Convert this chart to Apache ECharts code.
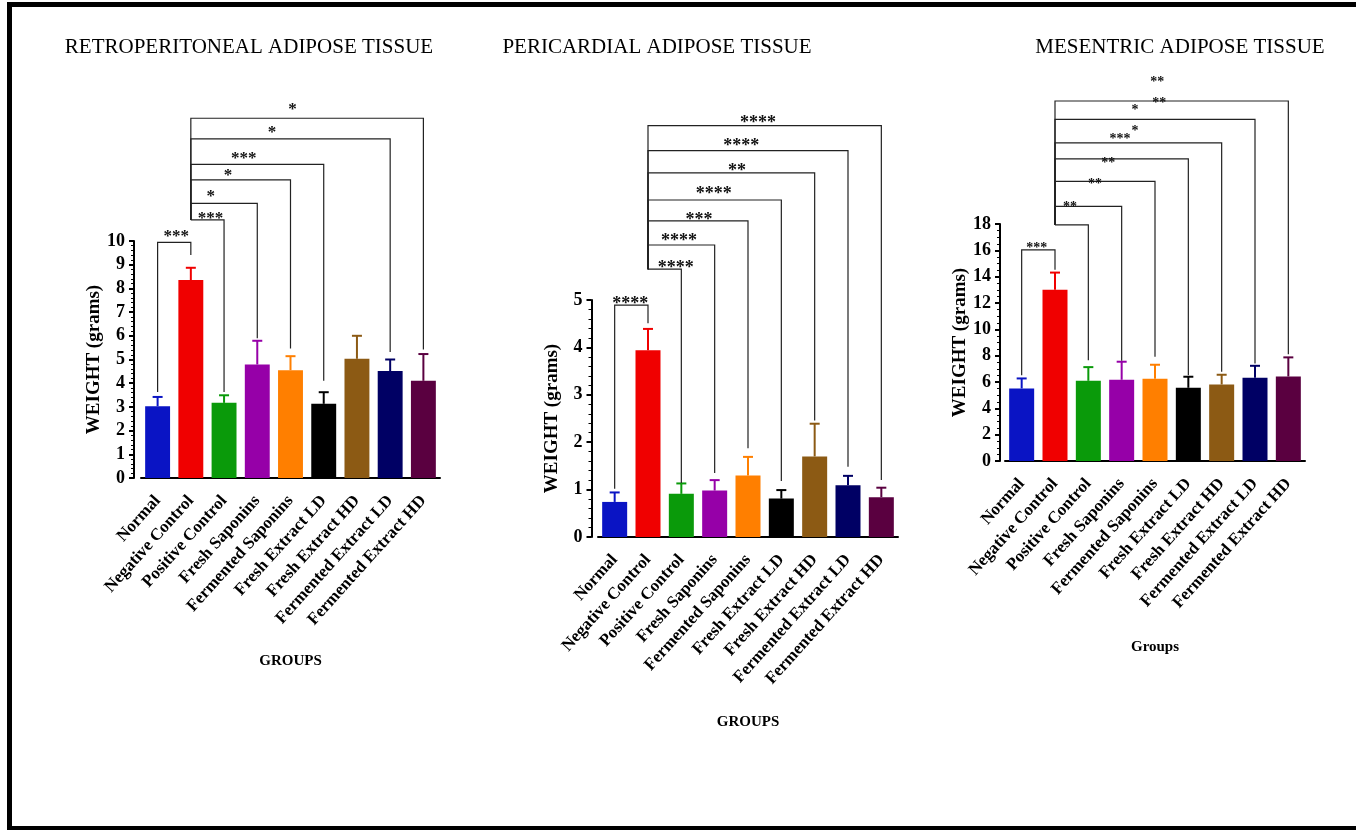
<!DOCTYPE html>
<html>
<head>
<meta charset="utf-8">
<script src="https://cdn.jsdelivr.net/npm/echarts@6/dist/echarts.min.js"></script>
<style>html,body{margin:0;padding:0;background:#fff}#c{width:1356px;height:830px}</style>
</head>
<body>
<div id="c"></div>
<script>
// ---------- DATA ----------
const categories = ['Normal','Negative Control','Positive Control','Fresh Saponins','Fermented Saponins','Fresh Extract LD','Fresh Extract HD','Fermented Extract LD','Fermented Extract HD'];

const retroMeans = [3.03, 8.35, 3.17, 4.79, 4.55, 3.13, 5.03, 4.51, 4.10];
const retroSD    = [0.39, 0.52, 0.32, 1.00, 0.59, 0.49, 0.97, 0.49, 1.13];
const retroCompare = [0, 2, 3, 4, 5, 7, 8];
const retroLevel   = [9.94, 10.89, 11.59, 12.58, 13.23, 14.31, 15.18];
const retroLegEnd  = [3.63, 3.63, 5.9, 5.46, 4.1, 5.32, 5.42];
const retroNegLegEnd = 9.41;
const retroStars  = ['***','***','*','*','***','*','*'];
const retroStarX  = [0.56, 1.59, 1.6, 2.12, 2.59, 3.44, 4.06];
const retroStarY  = [10.32, 11.08, 12.01, 12.9, 13.63, 14.72, 15.68];

const periMeans = [0.74, 3.94, 0.91, 0.98, 1.30, 0.81, 1.70, 1.09, 0.84];
const periSD    = [0.20, 0.45, 0.22, 0.22, 0.39, 0.18, 0.69, 0.20, 0.20];
const periCompare = [0, 2, 3, 4, 5, 6, 7, 8];
const periLevel   = [4.89, 5.65, 6.16, 6.67, 7.11, 7.68, 8.15, 8.68];
const periLegEnd  = [1.02, 1.14, 1.35, 1.87, 1.18, 2.46, 1.48, 1.2];
const periNegLegEnd = 4.51;
const periStars  = ['****','****','****','***','****','**','****','****'];
const periStarX  = [0.47, 1.83, 1.93, 2.53, 2.97, 3.67, 3.8, 4.3];
const periStarY  = [4.99, 5.75, 6.32, 6.76, 7.3, 7.78, 8.32, 8.8];

const mesMeans = [5.51, 13.0, 6.09, 6.17, 6.24, 5.56, 5.81, 6.32, 6.42];
const mesSD    = [0.76, 1.31, 1.04, 1.37, 1.07, 0.84, 0.74, 0.91, 1.45];
const mesCompare = [0, 2, 3, 4, 5, 6, 7, 8];
const mesLevel   = [16.04, 17.94, 19.34, 21.24, 22.94, 24.16, 25.94, 27.34];
const mesLegEnd  = [6.52, 7.66, 7.61, 7.92, 6.52, 6.78, 7.41, 8.1];
const mesNegLegEnd = 14.52;
const mesStars  = ['***','**','**','**','***','*','*','**','**'];
const mesStarX  = [0.45, 1.45, 2.2, 2.6, 2.95, 3.4, 3.4, 4.13, 4.07];
const mesStarY  = [16.35, 19.47, 21.24, 22.84, 24.67, 25.23, 26.83, 27.41, 28.98];

const yTicks = [{max:10, interval:1, minor:5}, {max:5, interval:1, minor:5}, {max:18, interval:2, minor:4}];
const panelTitles = ['RETROPERITONEAL ADIPOSE TISSUE', 'PERICARDIAL ADIPOSE TISSUE', 'MESENTRIC ADIPOSE TISSUE'];
const xNames = ['GROUPS', 'GROUPS', 'Groups'];
const yName = 'WEIGHT (grams)';

// ---------- STYLE ----------
const colors = ['#0a14c4','#f00000','#0a9a0a','#9600a8','#ff7f00','#000000','#8c5a14','#000064','#5a0040'];
const serif = '"Liberation Serif", "DejaVu Serif", serif';
const grids = [
  {left: 141, top: 241, width: 299, height: 237, yOff: 7, titleX: 244, nameGap: 176, starSize: 17},
  {left: 598, top: 300, width: 300, height: 237, yOff: 6.5, titleX: 652, nameGap: 178, starSize: 18},
  {left: 1005, top: 224, width: 300, height: 237, yOff: 5, titleX: 1175, nameGap: 179, starSize: 14}
];

function xAt(api, fx, y) {
  const i = Math.floor(fx);
  const a = api.coord([i, y]);
  const b = api.coord([i + 1, y]);
  return [a[0] + (fx - i) * (b[0] - a[0]), a[1]];
}

function panelSeries(p, means, sds, compare, level, legEnd, negLegEnd, stars, starX, starY) {
  const out = [];
  out.push({
    type: 'bar', xAxisIndex: p, yAxisIndex: p, barWidth: '75%',
    data: means.map((v, i) => ({value: v, itemStyle: {color: colors[i]}})),
    z: 2
  });
  out.push({
    type: 'custom', xAxisIndex: p, yAxisIndex: p, z: 3,
    data: means.map((v, i) => [i, v, v + sds[i]]),
    renderItem: function (params, api) {
      const i = api.value(0);
      const a = api.coord([i, api.value(1)]);
      const b = api.coord([i, api.value(2)]);
      const c = colors[i];
      return {type: 'group', children: [
        {type: 'line', shape: {x1: a[0], y1: a[1], x2: b[0], y2: b[1]}, style: {stroke: c, lineWidth: 2}},
        {type: 'line', shape: {x1: b[0] - 5, y1: b[1], x2: b[0] + 5, y2: b[1]}, style: {stroke: c, lineWidth: 2}}
      ]};
    }
  });
  const lowest = level[1];
  out.push({
    type: 'custom', xAxisIndex: p, yAxisIndex: p, z: 4, clip: false,
    data: compare.map((t, k) => [t, level[k], legEnd[k]]),
    renderItem: function (params, api) {
      const t = api.value(0), lv = api.value(1), le = api.value(2);
      let pts;
      if (t === 0) {
        pts = [api.coord([0, le]), api.coord([0, lv]), api.coord([1, lv]), api.coord([1, negLegEnd])];
      } else {
        pts = [api.coord([1, lowest]), api.coord([1, lv]), api.coord([t, lv]), api.coord([t, le])];
      }
      return {type: 'polyline', shape: {points: pts}, style: {stroke: '#222', lineWidth: 1.2, fill: null}};
    }
  });
  const fs = grids[p].starSize;
  out.push({
    type: 'custom', xAxisIndex: p, yAxisIndex: p, z: 5, clip: false,
    data: stars.map((s, k) => [starX[k], starY[k], s]),
    renderItem: function (params, api) {
      const pt = xAt(api, api.value(0), api.value(1));
      return {type: 'text', x: pt[0], y: pt[1] + fs * 0.2, style: {
        text: stars[params.dataIndex], fill: '#111', font: 'bold ' + fs + 'px ' + serif,
        textAlign: 'center', textVerticalAlign: 'middle'}};
    }
  });
  return out;
}

const chart = echarts.init(document.getElementById('c'));
const option = {
  backgroundColor: '#fff',
  animation: false,
  title: grids.map((g, i) => ({
    text: panelTitles[i], left: g.titleX, top: 32, textAlign: 'center',
    textStyle: {fontFamily: serif, fontSize: 21, fontWeight: 'normal', color: '#000'}
  })),
  grid: grids.map(g => ({left: g.left, top: g.top, width: g.width, height: g.height, containLabel: false})),
  xAxis: grids.map((g, i) => ({
    type: 'category', gridIndex: i, data: categories,
    name: xNames[i], nameLocation: 'middle', nameGap: g.nameGap,
    nameTextStyle: {fontFamily: serif, fontWeight: 'bold', fontSize: 15, color: '#000'},
    axisLine: {lineStyle: {color: '#000', width: 2}},
    axisTick: {alignWithLabel: true, length: 5, lineStyle: {color: '#000', width: 2}},
    axisLabel: {rotate: 48, interval: 0, margin: 20, fontFamily: serif, fontWeight: 'bold', fontSize: 17, color: '#000'},
    splitLine: {show: false}
  })),
  yAxis: grids.map((g, i) => ({
    type: 'value', gridIndex: i, min: 0, max: yTicks[i].max, interval: yTicks[i].interval,
    offset: g.yOff,
    name: yName, nameLocation: 'middle', nameGap: 30,
    nameTextStyle: {fontFamily: serif, fontWeight: 'bold', fontSize: 19, color: '#000'},
    axisLine: {show: true, lineStyle: {color: '#000', width: 2}},
    axisTick: {show: true, length: 5, lineStyle: {color: '#000', width: 2}},
    minorTick: {show: true, splitNumber: yTicks[i].minor, length: 3, lineStyle: {color: '#000', width: 1}},
    axisLabel: {fontFamily: serif, fontWeight: 'bold', fontSize: 18, color: '#000', margin: 9},
    splitLine: {show: false}
  })),
  series: [].concat(
    panelSeries(0, retroMeans, retroSD, retroCompare, retroLevel, retroLegEnd, retroNegLegEnd, retroStars, retroStarX, retroStarY),
    panelSeries(1, periMeans, periSD, periCompare, periLevel, periLegEnd, periNegLegEnd, periStars, periStarX, periStarY),
    panelSeries(2, mesMeans, mesSD, mesCompare, mesLevel, mesLegEnd, mesNegLegEnd, mesStars, mesStarX, mesStarY)
  ),
  graphic: [{
    type: 'rect', shape: {x: 9.5, y: 4.5, width: 1400, height: 824},
    style: {fill: null, stroke: '#000', lineWidth: 5}, z: 100
  }]
};
chart.setOption(option);
</script>
</body>
</html>
